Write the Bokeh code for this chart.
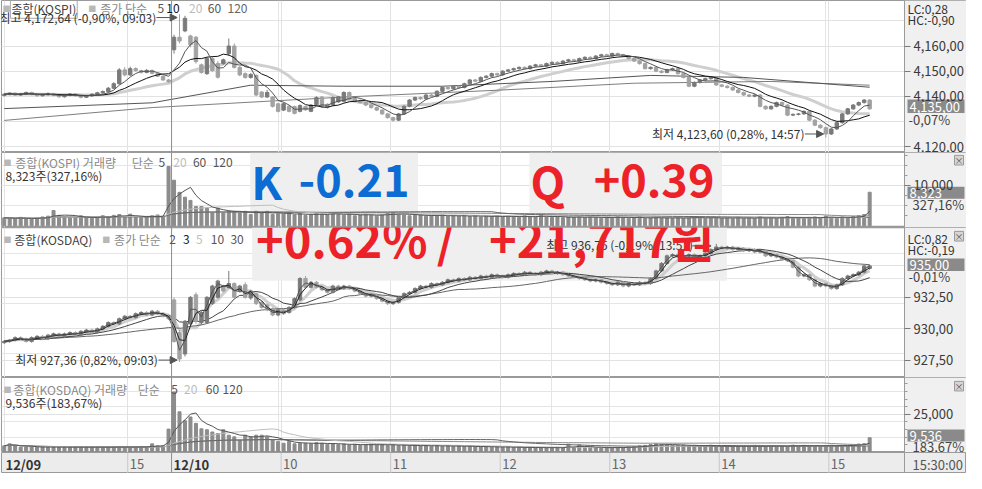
import pandas as pd
from bokeh.plotting import figure
from bokeh.layouts import column
from bokeh.models import (ColumnDataSource, FixedTicker, CustomJSTickFormatter, Label, LinearAxis,
                          Range1d, Span, Grid, Arrow, NormalHead)
from bokeh.embed import file_html
from bokeh.resources import INLINE

# ---------------- data (3-minute bars, 12/09 afternoon + 12/10) ----------------
kospi_open = [
    4140.3, 4140.8, 4141.2, 4140.5, 4140.9, 4141.5, 4140.8, 4140.2, 4140.6, 4141.0,
    4140.4, 4139.8, 4140.3, 4140.9, 4140.2, 4139.6, 4140.1, 4140.8, 4141.4, 4141.9,
    4143.2, 4145.0, 4150.5, 4148.5, 4151.0, 4150.2, 4149.5, 4150.3, 4149.1, 4148.0, 4146.5,
    4158.5, 4163.5, 4166.0, 4164.0, 4163.5, 4152.5, 4149.0, 4155.0, 4153.0, 4153.0,
    4157.0, 4160.0, 4151.5, 4149.0, 4147.5, 4148.3, 4141.7, 4139.7, 4139.7, 4137.0,
    4134.5, 4136.0, 4135.9, 4134.0, 4135.9, 4134.0, 4136.6, 4139.7, 4136.8, 4136.5,
    4137.8, 4138.0, 4141.5, 4139.0, 4138.0, 4137.5, 4136.5, 4135.5, 4134.5, 4133.0,
    4131.5, 4130.5, 4133.0, 4136.0, 4138.5, 4139.5, 4139.0, 4140.5, 4140.0, 4142.0,
    4143.5, 4143.0, 4144.0, 4143.5, 4145.0, 4146.5, 4146.0, 4147.5, 4148.0, 4149.0,
    4148.5, 4150.0, 4150.5, 4151.0, 4151.5, 4151.0, 4152.0, 4152.5, 4152.0, 4153.0,
    4153.5, 4153.0, 4154.0, 4154.5, 4154.0, 4155.0, 4155.5, 4155.0, 4156.0, 4156.5,
    4156.0, 4157.0, 4156.5, 4156.0, 4155.0, 4154.0, 4153.0, 4151.0, 4151.5, 4150.0,
    4149.5, 4150.5, 4151.0, 4149.0, 4147.5, 4144.0, 4145.5, 4146.5, 4147.0, 4147.5,
    4144.5, 4144.0, 4143.5, 4142.5, 4141.5, 4140.5, 4140.0, 4140.5, 4136.0, 4135.0,
    4136.0, 4137.5, 4136.5, 4132.5, 4132.8, 4133.0, 4134.0, 4130.5, 4128.5, 4127.5,
    4125.0, 4127.0, 4129.5, 4133.0, 4135.0, 4136.5, 4137.5, 4138.5]
kospi_high = [
    4141.2, 4141.6, 4141.5, 4141.3, 4141.9, 4141.8, 4141.1, 4141.0, 4141.5, 4141.3,
    4140.7, 4140.7, 4141.3, 4141.2, 4140.5, 4140.5, 4141.2, 4141.8, 4142.3, 4143.7,
    4145.6, 4151.2, 4151.6, 4151.8, 4151.5, 4150.6, 4150.8, 4150.6, 4149.4, 4148.3, 4146.9,
    4164.5, 4172.6, 4172.0, 4164.5, 4164.0, 4153.0, 4155.5, 4156.0, 4154.0, 4155.0,
    4163.0, 4161.0, 4152.0, 4149.5, 4149.2, 4148.7, 4142.0, 4142.5, 4140.0, 4137.4,
    4137.5, 4136.4, 4136.3, 4136.8, 4136.2, 4136.9, 4140.0, 4140.1, 4137.2, 4140.0,
    4140.2, 4142.0, 4141.9, 4139.4, 4138.8, 4137.9, 4136.9, 4135.9, 4134.9, 4133.4,
    4131.9, 4133.4, 4136.4, 4138.9, 4139.9, 4139.9, 4140.9, 4140.9, 4142.4, 4143.9,
    4143.9, 4144.4, 4144.4, 4145.4, 4146.9, 4146.9, 4147.9, 4148.4, 4149.4, 4149.4,
    4150.4, 4150.9, 4151.4, 4151.9, 4151.9, 4152.4, 4152.9, 4152.9, 4153.4, 4153.9,
    4153.9, 4154.4, 4154.9, 4154.9, 4155.4, 4155.9, 4155.9, 4156.4, 4156.9, 4156.9,
    4157.4, 4157.4, 4156.9, 4156.4, 4155.4, 4154.4, 4153.4, 4151.9, 4151.9, 4150.4,
    4150.9, 4151.4, 4151.4, 4149.4, 4147.9, 4145.9, 4146.9, 4147.4, 4147.9, 4147.9,
    4144.9, 4144.4, 4143.9, 4142.9, 4141.9, 4140.9, 4140.9, 4140.9, 4136.4, 4136.4,
    4137.9, 4137.9, 4136.9, 4133.2, 4133.4, 4134.4, 4134.4, 4130.9, 4128.9, 4127.9,
    4127.4, 4129.9, 4133.4, 4135.4, 4136.9, 4137.9, 4138.9, 4138.9]
kospi_low = [
    4139.9, 4140.4, 4140.1, 4140.2, 4140.6, 4140.4, 4139.8, 4139.9, 4140.3, 4140.0,
    4139.4, 4139.5, 4140.0, 4139.9, 4139.2, 4139.3, 4139.8, 4140.5, 4141.0, 4141.6,
    4142.9, 4144.6, 4147.9, 4148.1, 4149.8, 4149.0, 4149.1, 4148.7, 4147.6, 4146.1, 4145.4,
    4157.0, 4161.0, 4165.5, 4159.5, 4153.0, 4149.0, 4148.5, 4149.8, 4147.0, 4152.5,
    4156.0, 4151.0, 4148.0, 4147.0, 4147.0, 4140.0, 4139.3, 4139.4, 4135.5, 4133.6,
    4134.1, 4133.6, 4132.8, 4133.6, 4134.2, 4133.7, 4136.2, 4135.6, 4135.1, 4136.1,
    4137.4, 4137.6, 4138.6, 4137.6, 4137.1, 4136.1, 4135.1, 4134.1, 4132.6, 4131.1,
    4129.9, 4130.1, 4132.6, 4135.6, 4138.1, 4138.6, 4138.6, 4139.6, 4139.6, 4141.6,
    4142.6, 4142.6, 4143.1, 4143.1, 4144.6, 4145.6, 4145.6, 4147.1, 4147.6, 4148.1,
    4148.1, 4149.6, 4150.1, 4150.6, 4150.6, 4150.6, 4151.6, 4151.6, 4151.6, 4152.6,
    4152.6, 4152.6, 4153.6, 4153.6, 4153.6, 4154.6, 4154.6, 4154.6, 4155.6, 4155.6,
    4155.6, 4156.1, 4155.6, 4154.6, 4153.6, 4152.6, 4150.6, 4150.6, 4149.6, 4149.1,
    4149.1, 4150.1, 4148.6, 4147.1, 4143.6, 4143.6, 4145.1, 4146.1, 4146.6, 4144.1,
    4143.6, 4143.1, 4142.1, 4141.1, 4140.1, 4139.6, 4139.6, 4135.6, 4134.6, 4134.6,
    4135.6, 4136.1, 4132.1, 4132.1, 4132.4, 4132.6, 4130.1, 4128.1, 4127.1, 4123.6,
    4124.6, 4126.6, 4129.1, 4132.6, 4134.6, 4136.1, 4137.1, 4134.6]
kospi_close = [
    4140.8, 4141.2, 4140.5, 4140.9, 4141.5, 4140.8, 4140.2, 4140.6, 4141.0, 4140.4,
    4139.8, 4140.3, 4140.9, 4140.2, 4139.6, 4140.1, 4140.8, 4141.4, 4141.9, 4143.2,
    4145.0, 4150.5, 4148.5, 4151.0, 4150.2, 4149.5, 4150.3, 4149.1, 4148.0, 4146.5, 4145.8,
    4163.5, 4162.0, 4171.0, 4160.5, 4153.8, 4149.5, 4155.0, 4150.2, 4147.6, 4154.5,
    4160.0, 4151.5, 4148.5, 4147.5, 4148.7, 4140.5, 4139.7, 4141.5, 4136.0, 4134.0,
    4137.0, 4134.0, 4133.2, 4136.3, 4134.6, 4136.5, 4139.5, 4136.0, 4135.5, 4139.5,
    4139.8, 4141.5, 4139.0, 4138.0, 4137.5, 4136.5, 4135.5, 4134.5, 4133.0, 4131.5,
    4130.5, 4133.0, 4136.0, 4138.5, 4139.5, 4139.0, 4140.5, 4140.0, 4142.0, 4143.5,
    4143.0, 4144.0, 4143.5, 4145.0, 4146.5, 4146.0, 4147.5, 4148.0, 4149.0, 4148.5,
    4150.0, 4150.5, 4151.0, 4151.5, 4151.0, 4152.0, 4152.5, 4152.0, 4153.0, 4153.5,
    4153.0, 4154.0, 4154.5, 4154.0, 4155.0, 4155.5, 4155.0, 4156.0, 4156.5, 4156.0,
    4157.0, 4156.5, 4156.0, 4155.0, 4154.0, 4153.0, 4151.0, 4151.5, 4150.0, 4149.5,
    4150.5, 4151.0, 4149.0, 4147.5, 4144.0, 4145.5, 4146.5, 4147.0, 4147.5, 4144.5,
    4144.0, 4143.5, 4142.5, 4141.5, 4140.5, 4140.0, 4140.5, 4136.0, 4135.0, 4136.0,
    4137.5, 4136.5, 4132.5, 4132.8, 4133.0, 4134.0, 4130.5, 4128.5, 4127.5, 4125.0,
    4127.0, 4129.5, 4133.0, 4135.0, 4136.5, 4137.5, 4138.5, 4135.0]
kospi_volume = [
    2000, 1900, 1800, 2100, 1700, 1800, 1900, 2200, 2400, 3800,
    2600, 2300, 2000, 2100, 2500, 2000, 1900, 2000, 2500, 2300,
    2600, 2800, 2200, 2900, 2100, 2000, 2200, 2500, 2700, 2400, 14700,
    11300, 8300, 7100, 6300, 4800, 4800, 4400, 3200, 4400, 3200,
    3600, 3600, 3200, 3600, 2800, 3600, 3200, 3600, 2800, 3000,
    2900, 3200, 2700, 3000, 2600, 2800, 3100, 2900, 2700, 3300,
    2800, 2600, 3000, 2500, 2700, 2900, 2600, 2400, 2800, 3100,
    3300, 2900, 2700, 2500, 2600, 2800, 2400, 2600, 2500, 2700,
    2300, 2500, 2400, 2600, 2300, 2500, 2200, 2400, 2300, 2500,
    2200, 2400, 2300, 2100, 2500, 2200, 2300, 2700, 2200, 2100,
    2300, 2000, 2200, 2100, 2300, 2000, 2200, 2100, 1900, 2200,
    2000, 2300, 2100, 1900, 2000, 2200, 1800, 2000, 2100, 1900,
    2000, 1800, 2100, 1900, 2000, 2300, 1900, 1800, 2000, 2100,
    1900, 2000, 1800, 2100, 1900, 2000, 1800, 2200, 1900, 2000,
    1800, 2100, 2300, 1900, 2000, 1800, 2100, 2200, 2000, 2400,
    2100, 1900, 2200, 2000, 2300, 2500, 2800, 8323]
# long moving averages (they depend on earlier sessions)
kospi_ma60_bar = [0, 27, 45, 62, 80, 100, 118, 135, 158]
kospi_ma60 = [4135.1, 4137.4, 4144.4, 4144.0, 4144.0, 4145.9, 4148.3, 4147.5, 4143.6]
kospi_ma120_bar = [0, 27, 62, 90, 115, 140, 158]
kospi_ma120 = [4130.4, 4135.5, 4139.7, 4142.4, 4145.2, 4145.9, 4144.4]

kosdaq_open = [
    928.9, 929.0, 929.1, 929.3, 929.2, 929.0, 929.3, 929.4, 929.2, 929.5,
    929.6, 929.4, 929.6, 929.7, 929.5, 929.8, 929.9, 929.7, 930.0, 930.2,
    930.5, 930.4, 930.8, 931.0, 930.9, 931.2, 931.3, 931.1, 931.4, 931.2, 931.0,
    932.3, 929.7, 928.0, 930.4, 932.7, 930.5, 930.5, 932.0, 932.5, 933.4,
    933.3, 933.6, 933.05, 933.5, 932.45, 932.8, 932.1, 931.9, 931.6, 931.1,
    931.5, 931.3, 931.7, 932.3, 934.0, 933.3, 933.7, 933.3, 933.1, 932.9,
    933.4, 933.2, 933.4, 933.2, 933.0, 932.8, 932.6, 932.7, 932.4, 932.2,
    932.0, 932.1, 932.5, 932.8, 932.9, 933.2, 933.4, 933.3, 933.6, 933.5,
    933.7, 933.9, 933.8, 934.0, 933.9, 934.1, 934.0, 934.2, 934.1, 934.3,
    934.2, 934.1, 934.3, 934.4, 934.3, 934.5, 934.4, 934.3, 934.5, 934.6,
    934.4, 934.5, 934.3, 934.2, 934.1, 934.0, 933.9, 933.8, 933.9, 933.7,
    933.6, 933.5, 933.7, 933.4, 933.6, 933.5, 933.7, 933.6, 934.0, 934.6,
    935.2, 935.8, 935.9, 935.7, 935.8, 935.9, 935.7, 935.8, 936.0, 936.3,
    936.5, 936.4, 936.5, 936.3, 936.4, 936.2, 936.3, 936.1, 936.2, 935.8,
    935.9, 935.7, 935.5, 935.4, 934.9, 934.2, 934.3, 933.9, 933.4, 933.6,
    933.4, 933.2, 933.5, 934.0, 934.2, 934.3, 934.5, 934.8]
kosdaq_high = [
    929.1, 929.2, 929.4, 929.4, 929.3, 929.4, 929.5, 929.5, 929.6, 929.7,
    929.7, 929.7, 929.8, 929.8, 929.9, 930.0, 930.0, 930.1, 930.3, 930.6,
    930.6, 930.9, 931.1, 931.1, 931.3, 931.4, 931.4, 931.5, 931.5, 931.3, 931.1,
    932.5, 929.9, 930.7, 932.6, 932.9, 931.4, 932.6, 933.5, 933.9, 933.5,
    934.6, 933.7, 933.5, 933.7, 933.1, 932.9, 932.2, 932.0, 931.7, 931.6,
    931.6, 931.8, 932.5, 934.1, 934.2, 933.8, 933.8, 933.4, 933.2, 933.5,
    933.5, 933.5, 933.5, 933.3, 933.1, 932.9, 932.8, 932.8, 932.5, 932.3,
    932.2, 932.6, 932.9, 933.0, 933.3, 933.5, 933.5, 933.7, 933.7, 933.8,
    934.0, 934.0, 934.1, 934.1, 934.2, 934.2, 934.3, 934.3, 934.4, 934.4,
    934.3, 934.4, 934.5, 934.5, 934.6, 934.6, 934.5, 934.6, 934.7, 934.7,
    934.6, 934.6, 934.4, 934.3, 934.2, 934.1, 934.0, 934.0, 934.0, 933.8,
    933.7, 933.8, 933.8, 933.7, 933.7, 933.8, 933.8, 934.1, 934.7, 935.3,
    935.9, 936.0, 936.0, 935.9, 936.0, 936.0, 935.9, 936.1, 936.4, 936.75,
    936.6, 936.6, 936.6, 936.5, 936.5, 936.4, 936.4, 936.3, 936.3, 936.0,
    936.0, 935.8, 935.6, 935.5, 935.0, 934.4, 934.4, 934.0, 933.7, 933.7,
    933.5, 933.6, 934.1, 934.3, 934.4, 934.6, 935.1, 935.1]
kosdaq_low = [
    928.8, 928.9, 929.0, 929.1, 928.9, 928.9, 929.2, 929.1, 929.1, 929.4,
    929.3, 929.3, 929.5, 929.4, 929.4, 929.7, 929.6, 929.6, 929.9, 930.1,
    930.3, 930.3, 930.7, 930.8, 930.8, 931.1, 931.0, 931.0, 931.1, 930.9, 930.7,
    928.9, 927.36, 927.8, 930.2, 930.4, 930.3, 930.4, 931.9, 932.4, 932.9,
    933.2, 932.4, 932.9, 932.4, 932.3, 931.9, 931.6, 931.4, 931.0, 931.0,
    931.1, 931.2, 931.6, 932.2, 933.2, 933.2, 933.2, 933.0, 932.8, 932.8,
    933.1, 933.1, 933.1, 932.9, 932.7, 932.5, 932.5, 932.3, 932.1, 931.9,
    931.9, 932.0, 932.4, 932.7, 932.8, 933.1, 933.2, 933.2, 933.4, 933.4,
    933.6, 933.7, 933.7, 933.8, 933.8, 933.9, 933.9, 934.0, 934.0, 934.1,
    934.0, 934.0, 934.2, 934.2, 934.2, 934.3, 934.2, 934.2, 934.4, 934.3,
    934.3, 934.2, 934.1, 934.0, 933.9, 933.8, 933.7, 933.7, 933.6, 933.5,
    933.4, 933.4, 933.3, 933.3, 933.4, 933.4, 933.5, 933.5, 933.9, 934.5,
    935.1, 935.7, 935.6, 935.6, 935.7, 935.6, 935.6, 935.7, 935.9, 936.2,
    936.3, 936.3, 936.2, 936.2, 936.1, 936.1, 936.0, 936.0, 935.7, 935.7,
    935.6, 935.4, 935.3, 934.8, 934.1, 934.1, 933.8, 933.3, 933.3, 933.3,
    933.1, 933.1, 933.4, 933.9, 934.1, 934.2, 934.4, 934.7]
kosdaq_close = [
    929.0, 929.1, 929.3, 929.2, 929.0, 929.3, 929.4, 929.2, 929.5, 929.6,
    929.4, 929.6, 929.7, 929.5, 929.8, 929.9, 929.7, 930.0, 930.2, 930.5,
    930.4, 930.8, 931.0, 930.9, 931.2, 931.3, 931.1, 931.4, 931.2, 931.0, 930.8,
    929.0, 927.6, 930.6, 932.5, 930.6, 931.3, 932.5, 933.4, 933.8, 933.0,
    933.6, 932.5, 933.4, 932.5, 933.0, 932.0, 931.7, 931.5, 931.1, 931.5,
    931.2, 931.7, 932.4, 934.0, 933.3, 933.7, 933.3, 933.1, 932.9, 933.4,
    933.2, 933.4, 933.2, 933.0, 932.8, 932.6, 932.7, 932.4, 932.2, 932.0,
    932.1, 932.5, 932.8, 932.9, 933.2, 933.4, 933.3, 933.6, 933.5, 933.7,
    933.9, 933.8, 934.0, 933.9, 934.1, 934.0, 934.2, 934.1, 934.3, 934.2,
    934.1, 934.3, 934.4, 934.3, 934.5, 934.4, 934.3, 934.5, 934.6, 934.4,
    934.5, 934.3, 934.2, 934.1, 934.0, 933.9, 933.8, 933.9, 933.7, 933.6,
    933.5, 933.7, 933.4, 933.6, 933.5, 933.7, 933.6, 934.0, 934.6, 935.2,
    935.8, 935.9, 935.7, 935.8, 935.9, 935.7, 935.8, 936.0, 936.3, 936.5,
    936.4, 936.5, 936.3, 936.4, 936.2, 936.3, 936.1, 936.2, 935.8, 935.9,
    935.7, 935.5, 935.4, 934.9, 934.2, 934.3, 933.9, 933.4, 933.6, 933.4,
    933.2, 933.5, 934.0, 934.2, 934.3, 934.5, 935.0, 935.0]
kosdaq_volume = [
    4200, 5500, 4200, 3400, 3400, 3600, 3300, 3400, 3200, 3500,
    3300, 3400, 3200, 3300, 3500, 3200, 3400, 3300, 3200, 3400,
    3300, 3500, 3200, 3400, 3300, 3600, 3400, 5500, 4200, 4200, 15200,
    39700, 26600, 20700, 23200, 19000, 15400, 14800, 13300, 12300, 14800,
    11200, 10100, 8000, 11200, 10100, 11200, 11200, 10100, 8000, 7000,
    5900, 7000, 5500, 5900, 5900, 5500, 6300, 5900, 5200, 5600,
    5000, 5400, 4800, 5200, 4600, 5000, 5300, 4700, 5100, 4500,
    4900, 4300, 4600, 4200, 4500, 4100, 4400, 4000, 4300, 3900,
    4200, 3800, 4100, 3700, 4000, 3600, 3400, 3800, 3300, 3500,
    3200, 3400, 3000, 3300, 2900, 3200, 3000, 2800, 3100, 2900,
    3200, 2800, 5300, 3000, 4800, 2900, 3100, 2800, 3000, 3300,
    3000, 3200, 2900, 3500, 3800, 4200, 4500, 5000, 5500, 5200,
    4800, 4600, 4400, 4700, 4300, 4500, 4200, 4400, 4600, 4300,
    4100, 4400, 4200, 4000, 4300, 4100, 4500, 4200, 4000, 4300,
    4100, 4400, 4000, 4600, 4200, 4500, 4300, 4100, 4400, 4200,
    4600, 4300, 4500, 4200, 4700, 5400, 5600, 9536]

kospi_ma_periods = [5, 10, 20]
kosdaq_ma_periods = [2, 3, 5, 10, 30]
volume_ma_periods = [5, 20, 60, 120]

time_labels = ["12/09", "15", "12/10", "10", "11", "12", "13", "14", "15"]
time_label_bars = [0, 23, 31, 51, 71, 91, 111, 131, 151]

kospi_ticks = [4120, 4140, 4150, 4160]
kospi_grid = [4120, 4130, 4140, 4150, 4160, 4170]
kosdaq_ticks = [927.5, 930.0, 932.5]
kosdaq_grid = [927.5, 930.0, 932.5, 935.0]

# ---------------- layout helpers ----------------
FONT = "Noto Sans CJK KR"
W = 966
LB = 1
CHART_PX = 903                      # width of the chart area; the axis area follows it
XEND = 164.36
PXB = CHART_PX / (XEND + 0.5)
XMAX = -0.5 + (W - LB) / PXB
N = len(kospi_close)
IDX = list(range(N))
UPC, DNC = "#7a7a7a", "#a2a2a2"
BLUE, RED = "#0b6dd3", "#ec2228"
AXIS_BG = "#f0f0f0"
BOX_BG = "#8a8a8a"


def bx(xref):
    return (xref - 3) / 5.55 - 0.5


def axpx(px):
    return XEND + px / PXB


def ky(yref):
    return 4160 - (yref - 47.7) / 2.58


def kvy(yref):
    return (233.3 - yref) * 238


def qy(yref):
    return 935 - (yref - 274.7) / 13.0


def qvy(yref):
    return (467.7 - yref) * 633


def ma(vals, n):
    return pd.Series(vals).rolling(n, min_periods=1).mean().tolist()


PRICE_FMT = r"""
const s = Math.abs(tick).toFixed(2).split('.');
const a = s[0].replace(/\B(?=(\d{3})+(?!\d))/g, ',');
return (tick < 0 ? '-' : '') + a + ',' + s[1];
"""
VOL_FMT = r"""
return Math.round(tick).toString().replace(/\B(?=(\d{3})+(?!\d))/g, ',');
"""

grid_bars = [b - 0.45 for b in time_label_bars[1:]]
DATE_LINE = time_label_bars[2] - 0.45


def make_fig(h, y0, y1, ticks, grid, fmt, minor=None):
    p = figure(width=W, height=h, x_range=Range1d(-0.5, XMAX), y_range=Range1d(y0, y1),
               output_backend="svg", toolbar_location=None, tools="",
               x_axis_location=None, y_axis_location=None,
               min_border_left=LB, min_border_right=0,
               min_border_top=0, min_border_bottom=0)
    p.background_fill_color = "white"
    p.border_fill_color = AXIS_BG
    p.outline_line_color = "#9a9a9a"
    p.add_layout(Grid(dimension=1, ticker=FixedTicker(ticks=grid), grid_line_color="#e2e2e2"))
    p.add_layout(Grid(dimension=0, ticker=FixedTicker(ticks=[g for g in grid_bars if g != DATE_LINE]),
                      grid_line_color="#e2e2e2"))
    p.add_layout(Span(location=DATE_LINE, dimension="height", line_color="#8c8c8c", line_width=1))
    p.quad(left=[XEND], right=[XMAX], bottom=[y0], top=[y1], fill_color=AXIS_BG, line_color=None)
    ax = LinearAxis(fixed_location=XEND,
                    ticker=FixedTicker(ticks=ticks, minor_ticks=minor or []),
                    formatter=CustomJSTickFormatter(code=fmt))
    ax.major_label_text_font = FONT
    ax.major_label_text_font_size = "13px"
    ax.major_label_text_color = "#3a3a3a"
    ax.axis_line_color = "#9a9a9a"
    ax.major_tick_line_color = "#7a7a7a"
    ax.minor_tick_line_color = "#9a9a9a"
    ax.major_tick_in = 0
    ax.major_tick_out = 6
    ax.minor_tick_in = 0
    ax.minor_tick_out = 3
    ax.major_label_standoff = 3
    p.add_layout(ax, "right")
    return p


def lab(p, x, y, text, size=12, color="#333333", align="left", baseline="middle",
        border=None, style="normal", xo=0, yo=0, pad=0):
    kw = {}
    if border is not None:
        kw["border_line_color"] = border
    p.add_layout(Label(x=x, y=y, x_offset=xo, y_offset=yo, text=text, text_font=FONT,
                       text_font_size=f"{size}px", text_color=color, text_align=align,
                       text_baseline=baseline, text_font_style=style, padding=pad, **kw))


def value_box(p, y_top, y_bottom, text, ymid):
    p.quad(left=[axpx(3)], right=[axpx(60)], top=[y_top], bottom=[y_bottom],
           fill_color=BOX_BG, line_color=None)
    lab(p, XEND, ymid, text, size=13, color="white", xo=5)


def close_icon(p, y_top, y_bottom):
    p.quad(left=[axpx(50)], right=[axpx(59)], top=[y_top], bottom=[y_bottom],
           fill_color="#d6d6d6", line_color="#9a9a9a")
    lab(p, axpx(54.5), (y_top + y_bottom) / 2, "×", size=9, color="#555555", align="center")


def arrow(p, x0, x1, y):
    p.add_layout(Arrow(end=NormalHead(size=7, fill_color="#555555", line_color="#555555"),
                       x_start=x0, y_start=y, x_end=x1, y_end=y,
                       line_color="#555555", line_width=1))


def candles(p, o, h, l, c):
    src = ColumnDataSource(dict(
        x=IDX, hi=h, lo=l,
        top=[max(a, b) for a, b in zip(o, c)],
        bottom=[min(a, b) for a, b in zip(o, c)],
        color=[UPC if b >= a else DNC for a, b in zip(o, c)]))
    p.segment("x", "hi", "x", "lo", source=src, line_color="color", line_width=1)
    p.vbar(x="x", width=0.62, top="top", bottom="bottom", source=src,
           fill_color="color", line_color="color")


def legend_row(p, y, items):
    for xref, text, color, kw in items:
        lab(p, bx(xref), y, text, color=color, **kw)


SQ = dict(size=8)

# ---------------- KOSPI price ----------------
p1 = make_fig(152, ky(157), ky(1), kospi_ticks, kospi_grid, PRICE_FMT)
ma_k = {n: ma(kospi_close, n) for n in kospi_ma_periods}
p1.line(IDX, ma_k[20], line_color="#cfcfcf", line_width=3)
p1.line(kospi_ma120_bar, kospi_ma120, line_color="#7e7e7e", line_width=1)
p1.line(kospi_ma60_bar, kospi_ma60, line_color="#555555", line_width=1)
candles(p1, kospi_open, kospi_high, kospi_low, kospi_close)
p1.line(IDX, ma_k[10], line_color="#111111", line_width=1)
p1.line(IDX, ma_k[5], line_color="#555555", line_width=1)

legend_row(p1, ky(9.5), [
    (4, "■", "#b8b8b8", SQ),
    (12, "종합(KOSPI)", "#444444", dict(border="#a8a8a8", pad=1)),
    (91, "■", "#b8b8b8", SQ),
    (103, "종가 단순", "#8a8a8a", {}),
    (161, "5", "#555555", {}),
    (170, "10", "#111111", {}),
    (193, "20", "#bdbdbd", {}),
    (212, "60", "#555555", {}),
    (232, "120", "#666666", {}),
])
lab(p1, bx(1), ky(18.5), "최고 4,172,64 (-0,90%, 09:03)", color="#333333")
arrow(p1, bx(160), bx(181), ky(18.5))
lab(p1, bx(662), ky(137), "최저 4,123,60 (0,28%, 14:57)", color="#333333")
arrow(p1, bx(817), bx(836), ky(138))
lab(p1, XEND, ky(9), "LC:0,28", xo=3, color="#333333")
lab(p1, XEND, ky(21), "HC:-0,90", xo=3, color="#333333")
value_box(p1, ky(102.5), ky(116.5), "4,135,00", ky(110))
lab(p1, XEND, ky(123), "-0,07%", xo=4, color="#444444", size=13)

# ---------------- KOSPI volume ----------------
p2 = make_fig(75, kvy(235), kvy(157), [10000], [10000], VOL_FMT,
              minor=[2500, 5000, 7500, 12500, 15000, 17500])
p2.quad(left=[bx(255), bx(538)], right=[bx(425), bx(733)],
        bottom=[kvy(221)] * 2, top=[kvy(157)] * 2, fill_color="#efefef", line_color=None)
p2.vbar(x=IDX, width=0.55, top=kospi_volume, bottom=0, fill_color="#8c8c8c", line_color="#8c8c8c")
ma_kv = {n: ma(kospi_volume, n) for n in volume_ma_periods}
p2.line(IDX, ma_kv[120], line_color="#8a8a8a", line_width=1)
p2.line(IDX, ma_kv[60], line_color="#666666", line_width=1)
p2.line(IDX, ma_kv[20], line_color="#bdbdbd", line_width=1)
p2.line(IDX, ma_kv[5], line_color="#555555", line_width=1)
legend_row(p2, kvy(167), [
    (5, "■", "#b8b8b8", SQ),
    (17, "종합(KOSPI) 거래량", "#8a8a8a", {}),
    (135, "단순", "#8a8a8a", {}),
    (162, "5", "#555555", {}),
    (177, "20", "#bdbdbd", {}),
    (197, "60", "#555555", {}),
    (217, "120", "#555555", {}),
])
lab(p2, bx(7), kvy(180.5), "8,323주(327,16%)", color="#333333")
value_box(p2, kvy(192.5), kvy(205), "8,323", kvy(199))
lab(p2, XEND, kvy(211), "327,16%", xo=8, color="#444444", size=13)
close_icon(p2, kvy(160), kvy(170))
BIG = dict(size=45, style="bold", baseline="alphabetic", yo=18)
lab(p2, bx(256), kvy(205), "K", color=BLUE, **BIG)
lab(p2, bx(304), kvy(205), "-0.21", color=BLUE, **BIG)
lab(p2, bx(539), kvy(205), "Q", color=RED, **BIG)
lab(p2, bx(603), kvy(205), "+0.39", color=RED, **BIG)

# ---------------- KOSDAQ price ----------------
p3 = make_fig(150, qy(390), qy(235), kosdaq_ticks, kosdaq_grid, PRICE_FMT)
p3.quad(left=[bx(257)], right=[bx(738)], bottom=[qy(290)], top=[qy(235)],
        fill_color="#efefef", line_color=None)
ma_q = {n: ma(kosdaq_close, n) for n in kosdaq_ma_periods}
p3.line(IDX, ma_q[5], line_color="#cfcfcf", line_width=3)
p3.line(IDX, ma_q[30], line_color="#666666", line_width=1)
p3.line(IDX, ma_q[10], line_color="#444444", line_width=1)
candles(p3, kosdaq_open, kosdaq_high, kosdaq_low, kosdaq_close)
p3.line(IDX, ma_q[3], line_color="#222222", line_width=1)
p3.line(IDX, ma_q[2], line_color="#555555", line_width=1)
legend_row(p3, qy(247), [
    (5, "■", "#b8b8b8", SQ),
    (16, "종합(KOSDAQ)", "#444444", {}),
    (105, "■", "#b8b8b8", SQ),
    (117, "종가 단순", "#8a8a8a", {}),
    (173, "2", "#555555", {}),
    (187, "3", "#222222", {}),
    (200, "5", "#c0c0c0", {}),
    (215, "10", "#555555", {}),
    (235, "30", "#555555", {}),
])
lab(p3, bx(555), qy(253), "최고 936,75 (-0,19%, 13:57)", color="#333333")
arrow(p3, bx(703), bx(722), qy(254))
lab(p3, bx(17), qy(371), "최저 927,36 (0,82%, 09:03)", color="#333333")
arrow(p3, bx(162), bx(181), qy(372))
lab(p3, XEND, qy(246), "LC:0,82", xo=3, color="#333333")
lab(p3, XEND, qy(258), "HC:-0,19", xo=3, color="#333333")
value_box(p3, qy(267), qy(280), "935,00", qy(274))
lab(p3, XEND, qy(286), "-0,01%", xo=4, color="#444444", size=13)
close_icon(p3, qy(239), qy(249))
BIG2 = dict(size=47, style="bold", baseline="alphabetic", color=RED, yo=24)
lab(p3, bx(261), qy(270), "+0.62%", **BIG2)
lab(p3, bx(444), qy(270), "/", **BIG2)
lab(p3, bx(497), qy(270), "+21,717원", **BIG2)

# ---------------- KOSDAQ volume ----------------
p4 = make_fig(75, qvy(468), qvy(390), [25000], [25000], VOL_FMT,
              minor=[5000, 10000, 15000, 20000, 30000, 35000, 40000, 45000])
p4.vbar(x=IDX, width=0.55, top=kosdaq_volume, bottom=0, fill_color="#8c8c8c", line_color="#8c8c8c")
ma_qv = {n: ma(kosdaq_volume, n) for n in volume_ma_periods}
p4.line(IDX, ma_qv[120], line_color="#8a8a8a", line_width=1)
p4.line(IDX, ma_qv[60], line_color="#666666", line_width=1)
p4.line(IDX, ma_qv[20], line_color="#bdbdbd", line_width=1)
p4.line(IDX, ma_qv[5], line_color="#555555", line_width=1)
legend_row(p4, qvy(402.5), [
    (5, "■", "#b8b8b8", SQ),
    (15, "종합(KOSDAQ) 거래량", "#8a8a8a", {}),
    (141, "단순", "#8a8a8a", {}),
    (175, "5", "#555555", {}),
    (188, "20", "#bdbdbd", {}),
    (210, "60", "#555555", {}),
    (227, "120", "#555555", {}),
])
lab(p4, bx(7), qvy(416.5), "9,536주(183,67%)", color="#333333")
value_box(p4, qvy(444), qvy(456.5), "9,536", qvy(450.5))
lab(p4, XEND, qvy(461.5), "183,67%", xo=8, color="#444444", size=13)
close_icon(p4, qvy(394), qvy(404))

# ---------------- time strip ----------------
strip = figure(width=W, height=21, x_range=Range1d(-0.5, XMAX),
               y_range=Range1d(0, 1), output_backend="svg", toolbar_location=None, tools="",
               x_axis_location=None, y_axis_location=None,
               min_border_left=LB, min_border_right=0, min_border_top=0, min_border_bottom=0)
strip.background_fill_color = "#ececec"
strip.border_fill_color = "#ececec"
strip.outline_line_color = "#9a9a9a"
strip.xgrid.visible = False
strip.ygrid.visible = False
seg_x = grid_bars + [XEND]
seg_c = ["#8c8c8c" if g == DATE_LINE else "#c8c8c8" for g in grid_bars] + ["#9a9a9a"]
strip.segment(x0=seg_x, y0=[0] * len(seg_x), x1=seg_x, y1=[1] * len(seg_x), line_color=seg_c)
for t, b in zip(time_labels, time_label_bars):
    is_date = "/" in t
    xpos = -0.5 + 4 / PXB if b == 0 else b - 0.45 + 2 / PXB
    lab(strip, xpos, 0.45, t, size=13, color="#333333" if is_date else "#666666",
        style="bold" if is_date else "normal")
lab(strip, XEND, 0.45, "15:30:00", xo=8, size=13, color="#555555")

layout = column(p1, p2, p3, p4, strip, spacing=0)
with open("out.html", "w", encoding="utf-8") as f:
    f.write(file_html(layout, INLINE))
